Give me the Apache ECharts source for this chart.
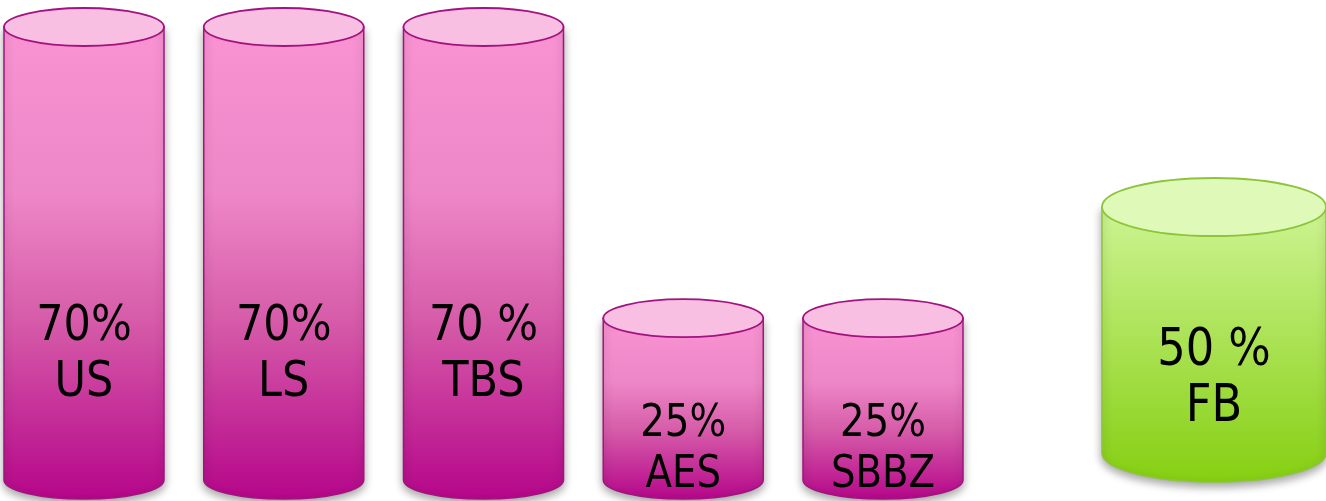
<!DOCTYPE html>
<html><head><meta charset="utf-8">
<script src="https://cdn.jsdelivr.net/npm/echarts@6/dist/echarts.min.js"></script>
<style>html,body{margin:0;padding:0;background:#fff;overflow:hidden}#c{width:1326px;height:501px}</style>
</head><body><div id="c"></div>
<script>
// ---- data ----
const pinkCategories = ['US', 'LS', 'TBS', 'AES', 'SBBZ'];
const pinkValues = [70, 70, 70, 25, 25];
const pinkValueLabels = ['70%', '70%', '70 %', '25%', '25%'];
const greenCategories = ['FB'];
const greenValues = [50];
const greenValueLabels = ['50 %'];

const K = 0.5523;
function ellipsePath(cx, cy, rx, ry) {
  return 'M' + (cx - rx) + ' ' + cy +
    ' C' + (cx - rx) + ' ' + (cy - K * ry) + ' ' + (cx - K * rx) + ' ' + (cy - ry) + ' ' + cx + ' ' + (cy - ry) +
    ' C' + (cx + K * rx) + ' ' + (cy - ry) + ' ' + (cx + rx) + ' ' + (cy - K * ry) + ' ' + (cx + rx) + ' ' + cy +
    ' C' + (cx + rx) + ' ' + (cy + K * ry) + ' ' + (cx + K * rx) + ' ' + (cy + ry) + ' ' + cx + ' ' + (cy + ry) +
    ' C' + (cx - K * rx) + ' ' + (cy + ry) + ' ' + (cx - rx) + ' ' + (cy + K * ry) + ' ' + (cx - rx) + ' ' + cy + ' Z';
}
function bodyPath(cx, ty, by, rx, ry) {
  return 'M' + (cx - rx) + ' ' + ty + ' L' + (cx - rx) + ' ' + by +
    ' C' + (cx - rx) + ' ' + (by + K * ry) + ' ' + (cx - K * rx) + ' ' + (by + ry) + ' ' + cx + ' ' + (by + ry) +
    ' C' + (cx + K * rx) + ' ' + (by + ry) + ' ' + (cx + rx) + ' ' + (by + K * ry) + ' ' + (cx + rx) + ' ' + by +
    ' L' + (cx + rx) + ' ' + ty + ' Z';
}

function makeRender(o, cats, valueLabels) {
  return function (params, api) {
    const idx = api.value(0), val = api.value(1);
    const top = api.coord([idx, val]);
    const base = api.coord([idx, 0]);
    const cx = top[0], ty = top[1], by = base[1];
    const big = val >= 50;
    const t = big ? o.bigText : o.smallText;
    const ly = ty + (by - ty) * t.frac;
    return {
      type: 'group',
      children: [
        {
          type: 'path',
          shape: { pathData: bodyPath(cx, ty, by, o.rx, o.ry) },
          style: {
            fill: new echarts.graphic.LinearGradient(0, 0, 0, 1, o.body),
            stroke: o.stroke, lineWidth: 1.5,
            shadowColor: 'rgba(0,0,0,0.35)', shadowBlur: 8, shadowOffsetY: 4
          }
        },
        {
          type: 'path',
          shape: { pathData: ellipsePath(cx, ty, o.rx, o.ry) },
          style: { fill: o.top, stroke: o.stroke, lineWidth: 1.8 }
        },
        {
          type: 'text',
          x: cx, y: ly, scaleX: 0.86,
          style: {
            text: valueLabels[params.dataIndex] + '\n' + cats[params.dataIndex],
            x: 0, y: 0, align: 'center', verticalAlign: 'middle',
            fontFamily: '"DejaVu Sans", sans-serif', fontSize: t.size,
            lineHeight: t.lh, fill: '#000'
          }
        }
      ]
    };
  };
}

const pinkStyle = {
  rx: 80, ry: 19, stroke: '#A3137F', top: '#F9BFE3',
  bigText: { frac: 0.725, size: 50, lh: 56 },
  smallText: { frac: 0.815, size: 45, lh: 51 },
  body: [
    { offset: 0, color: '#F993D2' },
    { offset: 0.35, color: '#EE87C7' },
    { offset: 0.62, color: '#D65CA9' },
    { offset: 1, color: '#B5068A' }
  ]
};
const greenStyle = {
  rx: 112, ry: 29, stroke: '#8CC53A', top: '#DFFAB8',
  bigText: { frac: 0.7, size: 52, lh: 56 },
  smallText: { frac: 0.8, size: 45, lh: 51 },
  body: [
    { offset: 0, color: '#CDF493' },
    { offset: 1, color: '#86CF12' }
  ]
};

const chart = echarts.init(document.getElementById('c'), null, { renderer: 'canvas' });
chart.setOption({
  animation: false,
  backgroundColor: '#ffffff',
  grid: [
    { left: 84, width: 799, top: 27, height: 453 },
    { left: 1102, width: 224, top: 207, height: 246 }
  ],
  xAxis: [
    { type: 'category', gridIndex: 0, data: pinkCategories, boundaryGap: false, show: false },
    { type: 'category', gridIndex: 1, data: greenCategories, boundaryGap: true, show: false }
  ],
  yAxis: [
    { type: 'value', gridIndex: 0, min: 0, max: 70, show: false },
    { type: 'value', gridIndex: 1, min: 0, max: 50, show: false }
  ],
  series: [
    {
      type: 'custom', xAxisIndex: 0, yAxisIndex: 0, clip: false,
      renderItem: makeRender(pinkStyle, pinkCategories, pinkValueLabels),
      data: pinkValues.map((v, i) => [i, v])
    },
    {
      type: 'custom', xAxisIndex: 1, yAxisIndex: 1, clip: false,
      renderItem: makeRender(greenStyle, greenCategories, greenValueLabels),
      data: greenValues.map((v, i) => [i, v])
    }
  ]
});
</script>
</body></html>
